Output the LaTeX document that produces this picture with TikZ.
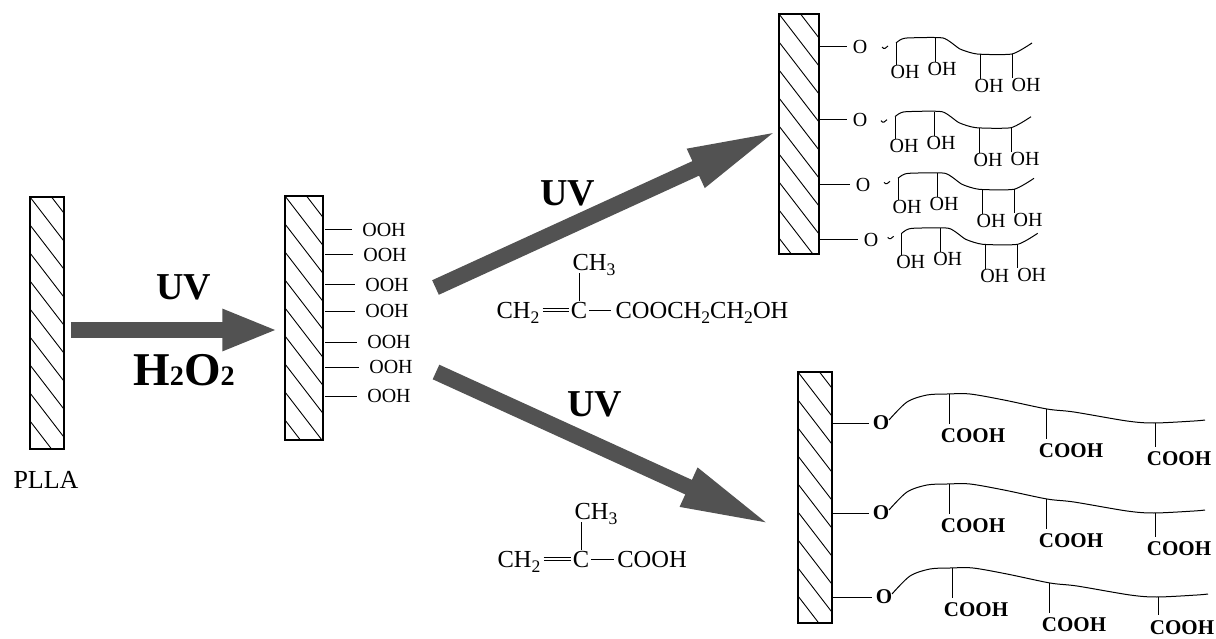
\documentclass[tikz,border=0pt]{standalone}
\usepackage{fontspec}
\setmainfont{Liberation Serif}
\usepackage{tikz}
\usetikzlibrary{arrows.meta, calc}
\newcommand{\lowr}[1]{\raisebox{-.22em}{\scalebox{.72}{#1}}}
\tikzset{
  >=latex,
  % Piastre tratteggiate
  plate/.style={draw,line width=1.5pt,minimum width=#1,inner sep=0,
    path picture={\foreach \k in {-112,-84,...,280}
      \draw[line width=.9pt] ([yshift=-\k pt]path picture bounding box.north west) -- ++(70pt,-91pt);}},
  % Testi
  txt/.style={inner sep=0,text depth=0pt,font=\fontsize{20}{22}\selectfont},
  formula/.style={inner sep=0,text depth=0pt,font=\fontsize{24.5}{26}\selectfont},
  cooh/.style={inner sep=0,text depth=0pt,font=\fontsize{21}{23}\selectfont\bfseries},
  big/.style={inner sep=0,text depth=0pt,font=\fontsize{38}{40}\selectfont\bfseries},
  % Connessioni
  bond/.style={line width=1pt},
  double bond/.style={line width=1pt,double,double distance=2.5pt,shorten <=3pt,shorten >=2pt},
  fat arrow/.style={line width=16pt,black!68,-{Triangle[length=#1,width=38pt]}},
  % Catene laterali
  ohchain/.pic={
    \coordinate (-d1) at (36,-4);
    \coordinate (-d2) at (75,-9);
    \coordinate (-d3) at (120,7);
    \coordinate (-d4) at (152,7);
    \node[txt] (-oh1) at (45,25) {OH};
    \node[txt] (-oh2) at (82,22) {OH};
    \node[txt] (-oh3) at (129,39) {OH};
    \node[txt] (-oh4) at (166,38) {OH};
    \draw[bond] plot[smooth,tension=.35] coordinates {(36,-4) (40,-7) (47,-9) (83,-9) (100,2) (117,7) (152,7) (172,-4)};
    \draw[bond] (22,0) .. controls (24,3) and (26,1) .. (28,-1);
    \foreach \n in {1,2,3,4}
      \draw[bond] (-d\n) -- (-d\n |- -oh\n.north);
  },
  acidchain/.pic={
    \coordinate (-d1) at (68,-29);
    \coordinate (-d2) at (165,-14);
    \coordinate (-d3) at (274,0);
    \node[cooh] (-c1) at (92,13) {COOH};
    \node[cooh] (-c2) at (190,28) {COOH};
    \node[cooh] (-c3) at (298,#1) {COOH};
    \draw[bond] plot[smooth,tension=.5] coordinates {(8,-3) (26,-21) (46,-28) (66,-29) (89,-29) (123,-23) (166,-14) (193,-11) (246,-2) (273,0) (313,-2) (324,-3)};
    \foreach \n in {1,2,3}
      \draw[bond,shorten >=5pt] (-d\n) -- (-d\n |- -c\n.north);
  }
}
\begin{document}
\begin{tikzpicture}[x=1pt,y=-1pt]
    \useasboundingbox (0,0) rectangle (1216,639);
    \node[plate=34pt,minimum height=252pt] (plateA) at (47,323) {};
    \node[plate=38pt,minimum height=244pt] (plateB) at (304,318) {};
    \node[plate=40pt,minimum height=240pt] (plateC) at (799,134) {};
    \node[plate=34pt,minimum height=251pt] (plateD) at (815,497.5) {};
    \node[font=\fontsize{26}{28}\selectfont,inner sep=0] (plla) at (46,480) {PLLA};
    % first step
    \draw[fat arrow=56pt,shorten <=6pt,shorten >=6pt] ([yshift=-7pt]plateA.east) -- ([yshift=-12pt]plateB.west);
    \node[big] (uvA) at (184,287) {UV};
    \node[big] (peroxide) at (184,370) {\fontsize{47}{49}\selectfont H\scalebox{.6}{2}O\scalebox{.6}{2}};
    \foreach \n/\x/\y in {1/384/230,2/385/255,3/387/285,4/387/311,5/389/342,6/391/367,7/389/396} {
      \node[txt] (ooh\n) at (\x,\y) {OOH};
      \draw[bond,shorten >=10pt,shorten <=1pt] (plateB.east |- ooh\n) -- (ooh\n.west);
    }
    % upper branch
    \coordinate (startUp) at (435.5,287.5);
    \coordinate (tipUp) at (773,133);
    \draw[fat arrow=92pt,shorten >=-7pt] (startUp) -- (tipUp);
    \node[big] (uvB) at (568,193) {UV};
    \node[formula] (ch3A) at (594,262) {CH\lowr{3}};
    \node[formula] (ch2A) at (518,310) {CH\lowr{2}};
    \node[formula] (cA) at (579,310) {C};
    \node[formula] (esterA) at (702,310) {COOCH\lowr{2}CH\lowr{2}OH};
    \draw[bond,shorten <=1pt,shorten >=3pt] (cA.north) -- (cA.north |- ch3A.south);
    \draw[double bond] (ch2A.east) -- (cA.west);
    \draw[bond,shorten <=2pt,shorten >=4pt] (cA.east) -- (esterA.west);
    \foreach \n/\x/\y/\cx/\cy in {1/860/47/860/47,2/860/120/859/120.7,3/863/185/862/182.3,4/871/240/865.7/237.3} {
      \node[txt] (o\n) at (\x,\y) {O};
      \draw[bond,shorten >=6pt] (plateC.east |- o\n) -- (o\n.west);
      \pic (hema\n) at (\cx,\cy) {ohchain};
    }
    % lower branch
    \coordinate (startDown) at (436,372);
    \coordinate (tipDown) at (765,522);
    \draw[fat arrow=92pt,shorten >=-8pt] (startDown) -- (tipDown);
    \node[big] (uvC) at (595,404) {UV};
    \node[formula] (ch3B) at (596,511) {CH\lowr{3}};
    \node[formula] (ch2B) at (519,559) {CH\lowr{2}};
    \node[formula] (cB) at (581,559) {C};
    \node[formula] (acidB) at (652,559) {COOH};
    \draw[bond,shorten <=1pt,shorten >=3pt] (cB.north) -- (cB.north |- ch3B.south);
    \draw[double bond] (ch2B.east) -- (cB.west);
    \draw[bond,shorten <=2pt,shorten >=3pt] (cB.east) -- (acidB.west);
    \foreach \n/\x/\y/\e in {1/881/423/36,2/881/513/36,3/884/597/30.5} {
      \node[cooh] (q\n) at (\x,\y) {O};
      \draw[bond,shorten >=4pt] (plateD.east |- q\n) -- (q\n.west);
      \pic (maa\n) at (\x,\y) {acidchain=\e};
    }
  \end{tikzpicture}
\end{document}
